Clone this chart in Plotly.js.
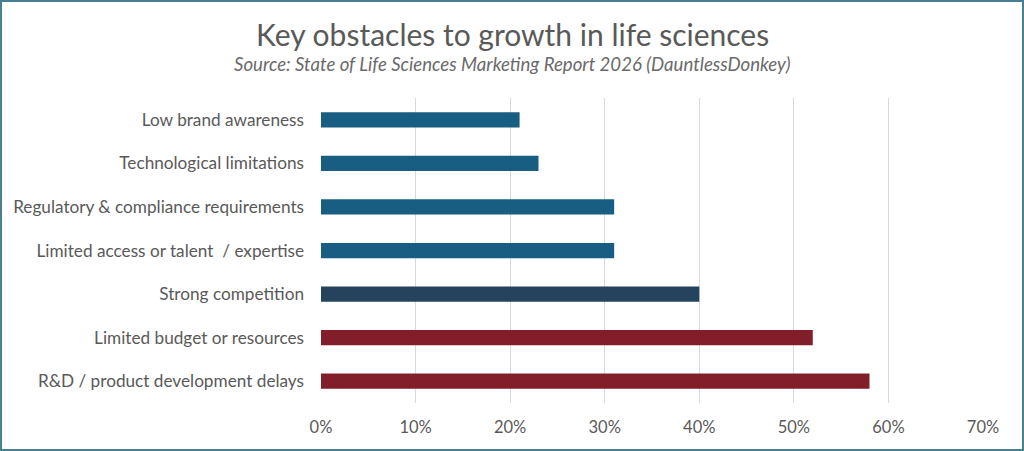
<!DOCTYPE html>
<html>
<head>
<meta charset="utf-8">
<script src="https://cdn.plot.ly/plotly-3.0.1.min.js"></script>
<style>
html,body{margin:0;padding:0;background:#fff;}
#wrap{width:1024px;height:451px;box-sizing:border-box;border:2px solid #4a7f92;position:relative;overflow:hidden;}
#chart{position:absolute;left:-2px;top:-2px;width:1024px;height:451px;}
</style>
</head>
<body>
<div id="wrap"><div id="chart"></div></div>
<script>
const categories = [
  "R&D / product development delays",
  "Limited budget or resources",
  "Strong competition",
  "Limited access or talent  / expertise",
  "Regulatory & compliance requirements",
  "Technological limitations",
  "Low brand awareness"
];
const values = [0.58, 0.52, 0.40, 0.31, 0.31, 0.23, 0.21];
const barColors = ["#821e2a", "#821e2a", "#25435c", "#175e82", "#175e82", "#175e82", "#175e82"];
const tickValues = [0, 0.1, 0.2, 0.3, 0.4, 0.5, 0.6, 0.7];
const tickLabels = ["0%", "10%", "20%", "30%", "40%", "50%", "60%", "70%"];
const gridValues = [0, 0.1, 0.2, 0.3, 0.4, 0.5, 0.6];

const trace = {
  type: "bar",
  orientation: "h",
  x: values,
  y: categories,
  marker: {color: barColors, line: {width: 0}},
  hoverinfo: "none"
};
const gridTrace = {
  type: "scatter", mode: "markers", x: [0], y: [categories[0]],
  xaxis: "x2", marker: {opacity: 0}, hoverinfo: "none", showlegend: false
};

const M = {l: 321, r: 41, t: 98, b: 48};
const W = 1024, H = 451;
const plotW = W - M.l - M.r, plotH = H - M.t - M.b;
const px2x = px => (px - M.l) / plotW;
const py2y = py => (H - M.b - py) / plotH;

const layout = {
  width: W, height: H,
  margin: M,
  paper_bgcolor: "rgba(0,0,0,0)",
  plot_bgcolor: "rgba(0,0,0,0)",
  showlegend: false,
  bargap: 0.65,
  font: {family: "Lato, 'Open Sans', sans-serif", color: "#595959", size: 16},
  xaxis: {
    range: [0, 0.7], tickvals: tickValues, ticktext: tickLabels,
    showgrid: false, zeroline: false, showline: false, ticks: "",
    ticklabelstandoff: 12, fixedrange: true,
    tickfont: {family: "Lato, sans-serif", size: 16.5, color: "#595959"}
  },
  xaxis2: {
    overlaying: "x", range: [0, 0.7], tickvals: gridValues,
    showticklabels: false, showgrid: true, gridcolor: "#d9d9d9", gridwidth: 1,
    zeroline: false, showline: false, ticks: ""
  },
  yaxis: {
    showgrid: false, zeroline: false, showline: false, ticks: "",
    ticklabelstandoff: 16, fixedrange: true,
    tickfont: {family: "Lato, sans-serif", size: 17.2, color: "#595959"}
  },
  annotations: [
    {text: "Key obstacles to growth in life sciences", xref: "paper", yref: "paper",
     x: px2x(512), xanchor: "center", y: py2y(34), yanchor: "middle", showarrow: false,
     font: {family: "Lato, sans-serif", size: 30, color: "#595959"}},
    {text: "<i>Source: State of Life Sciences Marketing Report 2026 (DauntlessDonkey)</i>", xref: "paper", yref: "paper",
     x: px2x(512), xanchor: "center", y: py2y(64), yanchor: "middle", showarrow: false,
     font: {family: "Lato, sans-serif", size: 18.6, color: "#6a6a6a"}}
  ]
};
Plotly.newPlot("chart", [gridTrace, trace], layout, {displayModeBar: false, staticPlot: true});
</script>
</body>
</html>
